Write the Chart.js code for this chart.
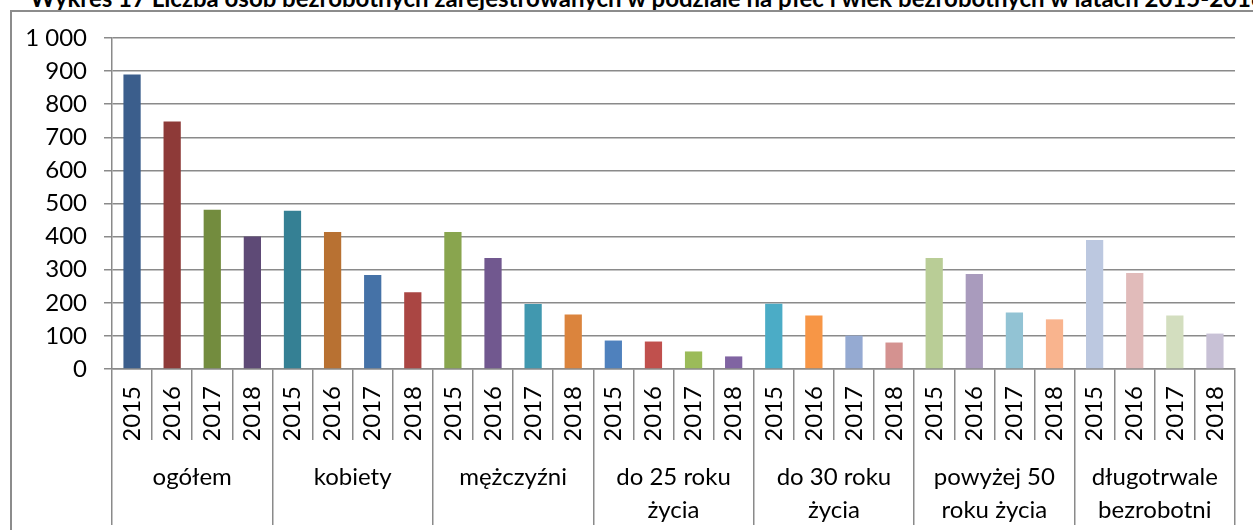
<!DOCTYPE html>
<html lang="pl">
<head>
<meta charset="utf-8" />
<title>Wykres 17</title>
<script src="https://cdn.jsdelivr.net/npm/chart.js"></script>
<style>
  body { margin: 0; background: #fff; }
  #wrap { position: relative; width: 1253px; height: 530px; overflow: hidden; }
  #title {
    position: absolute; left: 30px; top: -17px;
    font: bold 24px Lato, sans-serif; white-space: nowrap; color: #000;
  }
  #frame {
    position: absolute; left: 10px; top: 10px; right: -5px; bottom: -5px;
    border-left: 2px solid #8c8c8c; border-top: 2px solid #8c8c8c;
  }
  #chart-box { position: absolute; left: 0; top: 0; width: 1253px; height: 530px; }
</style>
</head>
<body>
<div id="wrap">
  <div id="title">Wykres 17 Liczba osób bezrobotnych zarejestrowanych w podziale na płeć i wiek bezrobotnych w latach 2015-2018</div>
  <div id="frame"></div>
  <div id="chart-box"><canvas id="c"></canvas></div>
</div>
<script>
  // dane
  const years = ["2015", "2016", "2017", "2018"];
  const groups = [
    ["ogółem"], ["kobiety"], ["mężczyźni"],
    ["do 25 roku", "życia"], ["do 30 roku", "życia"],
    ["powyżej 50", "roku życia"], ["długotrwale", "bezrobotni"]
  ];
  const values = [
    890, 748, 481, 400,   // ogółem
    478, 414, 284, 232,   // kobiety
    414, 335, 196, 165,   // mężczyźni
    86, 83, 53, 38,       // do 25
    197, 162, 101, 80,    // do 30
    335, 287, 171, 150,   // powyżej 50
    390, 290, 162, 107    // długotrwale
  ];
  const barColors = [
    "#3b5e8c", "#8e3a38", "#738c3e", "#5e4a76",
    "#358094", "#b87132", "#4572a7", "#aa4643",
    "#89a54e", "#71588f", "#4198af", "#db843d",
    "#4f81bd", "#c0504d", "#9bbb59", "#8064a2",
    "#4bacc6", "#f79646", "#95aad2", "#d49290",
    "#b9cd96", "#a99bbd", "#92c3d4", "#f9b48e",
    "#bcc8e0", "#e1bbba", "#d3debf", "#c8c1d6"
  ];
  const yMin = 0, yMax = 1000, yStep = 100;

  const labels = [];
  groups.forEach(() => years.forEach(y => labels.push(y)));

  const gray = "#8a8a8a";
  const font = { family: "Lato, 'Open Sans', sans-serif", size: 24 };

  new Chart(document.getElementById("c"), {
    type: "bar",
    data: {
      labels: labels,
      datasets: [{
        data: values,
        backgroundColor: barColors,
        borderWidth: 0,
        categoryPercentage: 1,
        barPercentage: 0.43,
        xAxisID: "x",
        yAxisID: "y"
      }]
    },
    options: {
      responsive: true,
      maintainAspectRatio: false,
      animation: false,
      layout: { padding: { top: 38, right: 18, left: 0, bottom: 5 } },
      plugins: { legend: { display: false }, tooltip: { enabled: false } },
      scales: {
        y: {
          min: yMin, max: yMax,
          afterFit: s => { s.width = 112; },
          grid: { color: gray, lineWidth: 1.5, tickLength: 8 },
          border: { display: true, color: gray, width: 1.5 },
          ticks: {
            stepSize: yStep, padding: 17, color: "#000", font: font,
            callback: v => String(v).replace(/\B(?=(\d{3})+(?!\d))/g, " ")
          }
        },
        x: {
          position: "bottom",
          weight: 0,
          afterFit: s => { s.height = 71; },
          grid: { offset: true, drawOnChartArea: false, tickLength: 71, color: gray, lineWidth: 1.5 },
          border: { display: true, color: gray, width: 1.5 },
          ticks: {
            autoSkip: false, minRotation: 90, maxRotation: 90,
            padding: -54, color: "#000", font: font
          }
        },
        x2: {
          type: "category",
          labels: groups,
          position: "bottom",
          weight: 1,
          offset: true,
          afterFit: s => { s.height = 85; },
          grid: { offset: true, drawOnChartArea: false, tickLength: 85, color: gray, lineWidth: 1.5 },
          border: { display: false },
          ticks: {
            autoSkip: false, maxRotation: 0, padding: -64.5, color: "#000",
            font: { family: font.family, size: 24, lineHeight: 1.375 }
          }
        }
      }
    }
  });
</script>
</body>
</html>
